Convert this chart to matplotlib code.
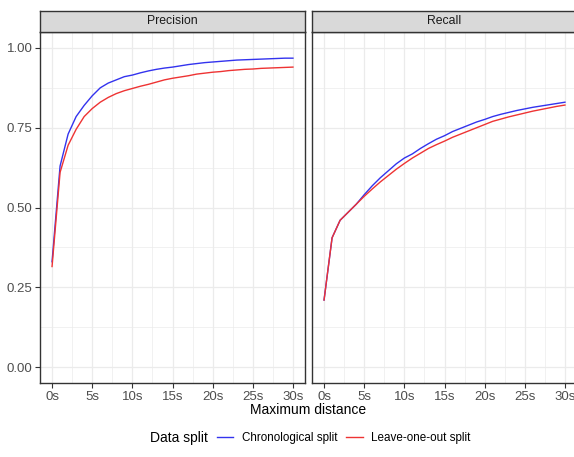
import numpy as np
import matplotlib
matplotlib.use('Agg')
import matplotlib.pyplot as plt
from matplotlib.lines import Line2D

plt.rcParams['font.family'] = ['Liberation Sans', 'DejaVu Sans']

# maximum distance in seconds
seconds = list(range(0, 31))

prec_chrono = [0.33, 0.63, 0.73, 0.785, 0.82, 0.85, 0.875, 0.89, 0.90, 0.91, 0.915,
               0.922, 0.928, 0.933, 0.937, 0.94, 0.944, 0.948, 0.951, 0.954, 0.956,
               0.958, 0.96, 0.962, 0.963, 0.964, 0.965, 0.966, 0.967, 0.968, 0.968]
prec_loo = [0.315, 0.61, 0.695, 0.745, 0.785, 0.81, 0.83, 0.845, 0.857, 0.866, 0.873,
            0.88, 0.886, 0.893, 0.90, 0.905, 0.909, 0.913, 0.918, 0.921, 0.924,
            0.926, 0.929, 0.931, 0.933, 0.934, 0.936, 0.937, 0.938, 0.939, 0.94]
rec_chrono = [0.21, 0.405, 0.46, 0.485, 0.51, 0.54, 0.568, 0.593, 0.615, 0.637, 0.655,
              0.668, 0.685, 0.70, 0.714, 0.725, 0.738, 0.748, 0.758, 0.768, 0.776,
              0.785, 0.792, 0.798, 0.804, 0.809, 0.814, 0.818, 0.822, 0.826, 0.83]
rec_loo = [0.21, 0.405, 0.46, 0.485, 0.51, 0.535, 0.558, 0.58, 0.60, 0.62, 0.638,
           0.655, 0.67, 0.685, 0.697, 0.708, 0.72, 0.73, 0.74, 0.75, 0.76,
           0.77, 0.777, 0.784, 0.79, 0.796, 0.802, 0.807, 0.812, 0.817, 0.821]

panels = ['Precision', 'Recall']
series = {'Precision': (prec_chrono, prec_loo), 'Recall': (rec_chrono, rec_loo)}
labels = ['Chronological split', 'Leave-one-out split']
colors = ['#3333ee', '#ee3333']
xticks = [0, 5, 10, 15, 20, 25, 30]
xtick_labels = ['0s', '5s', '10s', '15s', '20s', '25s', '30s']
yticks = [0.0, 0.25, 0.5, 0.75, 1.0]

W, H = 574, 457
fig = plt.figure(figsize=(W / 100, H / 100), dpi=100)

edge = '#333333'
lefts = [40, 312]
for i, name in enumerate(panels):
    l = lefts[i]
    ax = fig.add_axes([l / W, 1 - 383 / H, 265 / W, 351 / H])
    for ys, c in zip(series[name], colors):
        ax.plot(seconds, ys, color=c, lw=1.0)
    ax.set_xlim(-1.5, 31.5)
    ax.set_ylim(-0.05, 1.05)
    ax.set_xticks(xticks)
    ax.set_xticklabels(xtick_labels)
    ax.set_xticks(np.arange(2.5, 30, 5), minor=True)
    ax.set_yticks(yticks)
    ax.set_yticks([0.125, 0.375, 0.625, 0.875], minor=True)
    ax.grid(True, which='major', color='#ebebeb', lw=0.9)
    ax.grid(True, which='minor', color='#ebebeb', lw=0.5)
    ax.set_axisbelow(True)
    ax.tick_params(which='major', length=3.5, width=0.8, color=edge,
                   labelsize=9.5, labelcolor='#4d4d4d', pad=2)
    ax.tick_params(which='minor', length=0)
    if i == 0:
        ax.set_yticklabels(['0.00', '0.25', '0.50', '0.75', '1.00'])
    else:
        ax.set_yticklabels([])
        ax.tick_params(axis='y', which='both', length=0)
    for sp in ax.spines.values():
        sp.set_color(edge)
        sp.set_linewidth(1.0)

    strip = fig.add_axes([l / W, 1 - 32 / H, 265 / W, 21 / H])
    strip.set_facecolor('#d9d9d9')
    strip.set_xticks([])
    strip.set_yticks([])
    for sp in strip.spines.values():
        sp.set_color(edge)
        sp.set_linewidth(1.0)
    strip.text(0.5, 0.5, name, ha='center', va='center', fontsize=8.8,
               color='#1a1a1a', transform=strip.transAxes)

fig.text(308 / W, 1 - 410 / H, 'Maximum distance', ha='center', va='center',
         fontsize=10, color='black')

fig.text(150 / W, 1 - 438 / H, 'Data split', ha='left', va='center',
         fontsize=10, color='black')
handles = [Line2D([], [], color=c, lw=1.0) for c in colors]
fig.legend(handles, labels, ncol=2, loc='center left',
           bbox_to_anchor=(217 / W, 1 - 438 / H), frameon=False,
           fontsize=8.4, handlelength=1.4, handletextpad=0.75,
           columnspacing=0.75, borderaxespad=0, borderpad=0)

fig.savefig('out.png', dpi=100)
